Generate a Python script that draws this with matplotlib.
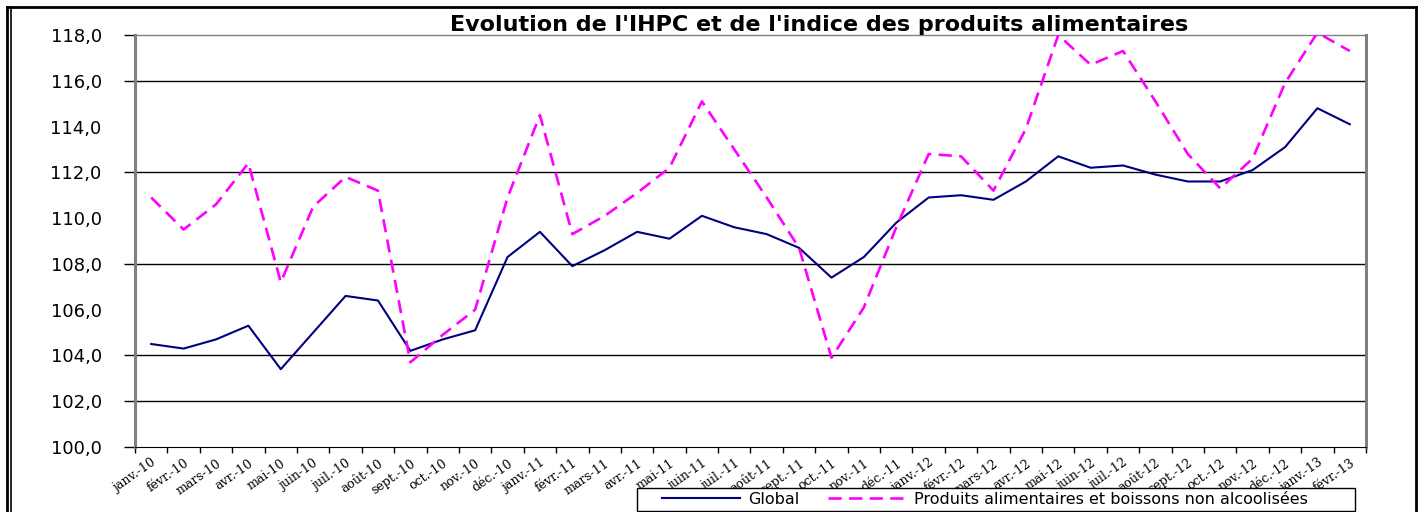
import matplotlib

matplotlib.use("Agg")

import matplotlib.pyplot as plt
import numpy as np
from matplotlib.lines import Line2D
from matplotlib.patches import Rectangle

# %% Data
months = ["janv.", "févr.", "mars", "avr.", "mai", "juin", "juil.", "août", "sept.", "oct.", "nov.", "déc."]
years = ["10", "11", "12", "13"]
x_labels = [f"{m}-{y}" for y in years for m in months][:38]

global_idx = [
    104.5, 104.3, 104.7, 105.3, 103.4, 105.0, 106.6, 106.4, 104.2, 104.7, 105.1, 108.3,
    109.4, 107.9, 108.6, 109.4, 109.1, 110.1, 109.6, 109.3, 108.7, 107.4, 108.3, 109.8,
    110.9, 111.0, 110.8, 111.6, 112.7, 112.2, 112.3, 111.9, 111.6, 111.6, 112.1, 113.1,
    114.8, 114.1,
]
food_idx = [
    110.9, 109.5, 110.6, 112.4, 107.2, 110.5, 111.8, 111.2, 103.7, 104.9, 106.0, 110.9,
    114.5, 109.3, 110.1, 111.1, 112.2, 115.1, 113.0, 110.9, 108.7, 103.9, 106.1, 109.6,
    112.8, 112.7, 111.2, 113.9, 118.0, 116.7, 117.3, 115.1, 112.8, 111.3, 112.6, 115.9,
    118.1, 117.3,
]
series_names = ["Global", "Produits alimentaires et boissons non alcoolisées"]
title = "Evolution de l'IHPC et de l'indice des produits alimentaires"

y_ticks = [100, 102, 104, 106, 108, 110, 112, 114, 116, 118]
y_tick_labels = [f"{v:.1f}".replace(".", ",") for v in y_ticks]
grid_levels = [102, 104, 108, 112, 116]  # lines visible in the reference

# %% Figure
W, H = 1419, 512
fig = plt.figure(figsize=(W / 100, H / 100), dpi=100)
fig.patch.set_facecolor("white")


def fx(px):
    return px / W


def fy(py):
    return 1 - py / H


ax = fig.add_axes([fx(135), fy(447), fx(1366 - 135), (447 - 35) / H])

x = np.arange(len(x_labels))
for lvl in grid_levels:
    ax.axhline(lvl, color="black", lw=1.0, zorder=1)

ax.plot(x, global_idx, color="#000080", lw=1.5, zorder=3, label=series_names[0])
ax.plot(x, food_idx, color="#FF00FF", lw=1.9, dashes=(5, 2.8), zorder=4, label=series_names[1])

ax.set_xlim(-0.5, len(x) - 0.5)
ax.set_ylim(100, 118)

# y axis: labels on every level, tick marks only where the reference shows them
ax.set_yticks(y_ticks)
ax.set_yticklabels(y_tick_labels, fontsize=13)
ax.set_yticks([100] + grid_levels + [118], minor=True)
ax.yaxis.remove_overlapping_locs = False
ax.tick_params(axis="y", which="major", length=0, pad=24)
ax.tick_params(axis="y", which="minor", length=8, width=1, color="black")

# x axis: labels at category centres, tick marks between categories
ax.set_xticks(x)
ax.set_xticklabels(x_labels, rotation=35, ha="right", va="top", rotation_mode="anchor",
                   fontsize=9, family="DejaVu Serif")
ax.set_xticks(np.arange(-0.5, len(x), 1), minor=True)
ax.tick_params(axis="x", which="major", length=0, pad=7)
ax.tick_params(axis="x", which="minor", length=4, width=1, color="black")

for side in ["left", "right"]:
    ax.spines[side].set_color("#808080")
    ax.spines[side].set_linewidth(2.2)
ax.spines["top"].set_color("#808080")
ax.spines["top"].set_linewidth(1.0)
ax.spines["bottom"].set_color("black")
ax.spines["bottom"].set_linewidth(0.8)

fig.text(fx(819), fy(25), title, ha="center", va="center", fontsize=16, fontweight="bold")

# legend: own frame box, library legend inside it
fig.add_artist(Rectangle((fx(637), fy(511)), fx(1355 - 637), (511 - 488) / H,
                         facecolor="white", edgecolor="black", lw=1.0,
                         transform=fig.transFigure, zorder=4))
leg = fig.legend(
    handles=ax.get_lines()[-2:],
    loc="center left",
    bbox_to_anchor=(fx(662), fy(499.5)),
    ncol=2,
    fontsize=11.5,
    frameon=False,
    handlelength=4.9,
    handletextpad=0.5,
    columnspacing=1.8,
    borderpad=0,
    borderaxespad=0,
)
leg.set_zorder(5)

# outer chart border
for xs, ys, lw in [
    ([7, 1416], [6.5, 6.5], 2.0),
    ([7, 7], [6.5, 520], 2.0),
    ([11, 11], [6.5, 520], 1.2),
    ([1416, 1416], [6.5, 520], 2.0),
]:
    fig.add_artist(Line2D([fx(v) for v in xs], [fy(v) for v in ys], color="black", lw=lw,
                          transform=fig.transFigure))

fig.savefig("out.png", dpi=100)
